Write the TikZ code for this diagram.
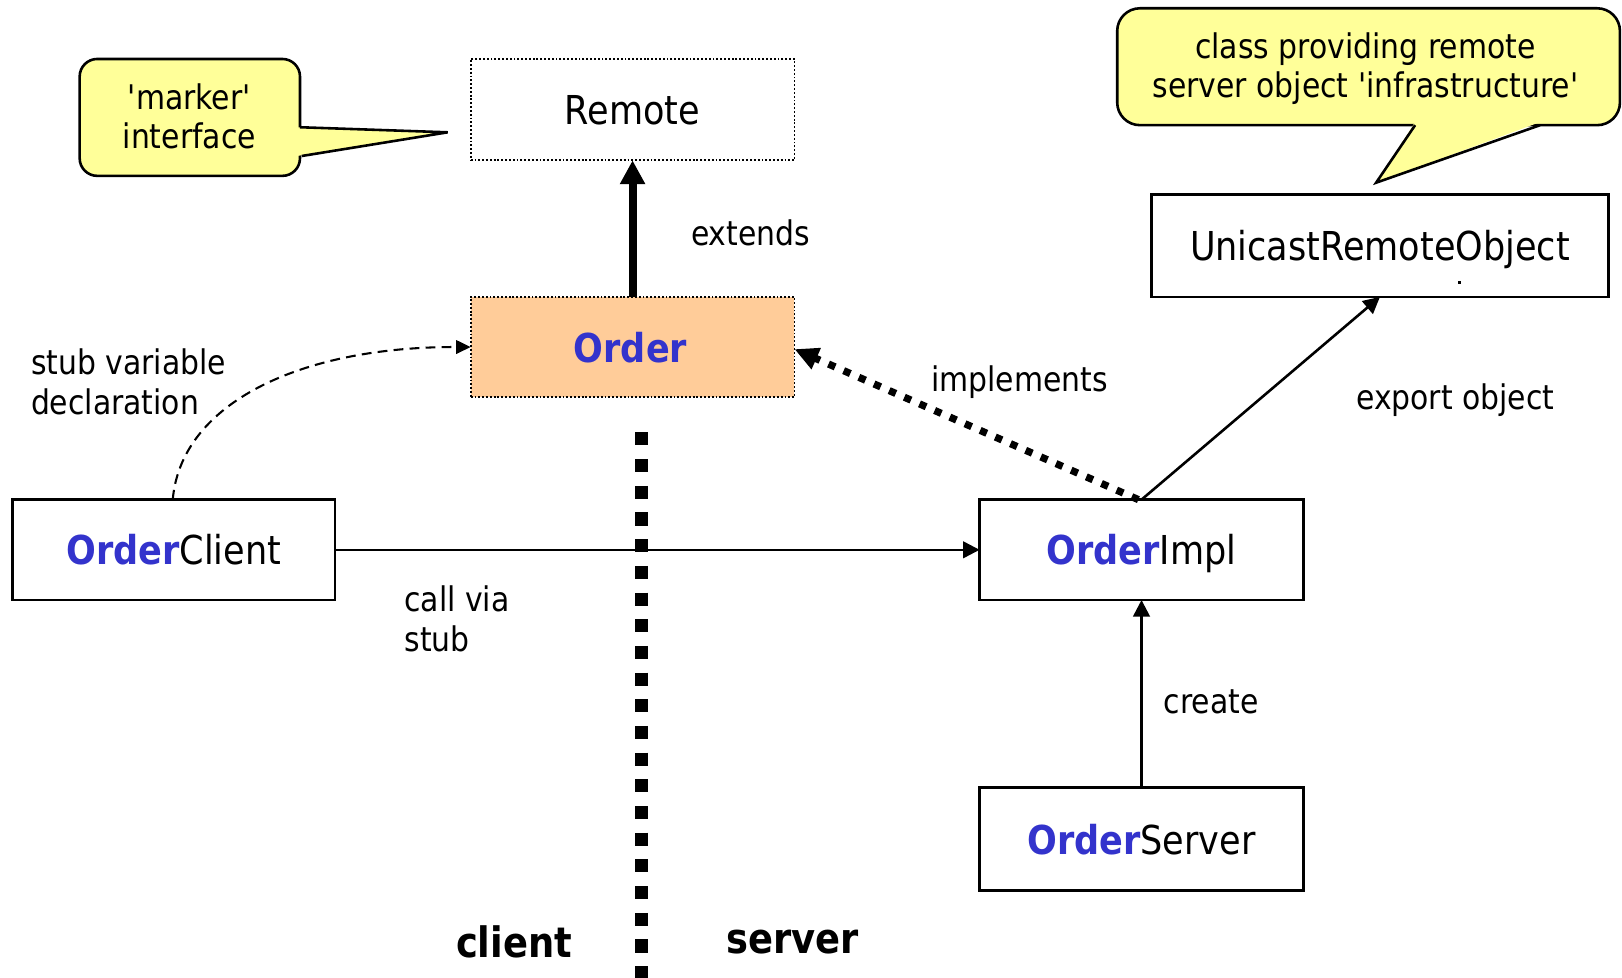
\documentclass[tikz,border=0pt]{standalone}
\usepackage{fontspec}
\setmainfont{DejaVu Sans}[FakeStretch=0.88, Ligatures=TeXOff]
\usetikzlibrary{arrows.meta}
\definecolor{ordblue}{HTML}{3333CC}
\definecolor{notefill}{HTML}{FFFF99}
\definecolor{ifacefill}{HTML}{FFCC99}
\newcommand\ordkw[1]{{\bfseries\color{ordblue}#1}}
\begin{document}
\begin{tikzpicture}[x=1pt, y=-1pt,
  every node/.style={inner sep=0pt, outer sep=0pt},
  cls/.style={draw, line width=2.5pt, fill=white, text depth=0pt,
    font=\fontsize{38.5}{45}\selectfont},
  iface/.style={draw, line width=1.8pt, dash pattern=on 1.8pt off 1.9pt,
    text depth=0pt, font=\fontsize{38.5}{45}\selectfont},
  lbl/.style={text depth=0pt, font=\fontsize{32.8}{38}\selectfont, align=left},
  side/.style={text depth=0pt, font=\fontsize{40.5}{45}\selectfont\bfseries},
  note/.style={fill=notefill, draw, line width=2.5pt},
  rel/.style={line width=2.5pt, -{Triangle[length=16pt,width=16pt]}},
  extarrow/.style={line width=7.7pt, -{Triangle[length=23pt,width=23pt]}},
  implarrow/.style={line width=7pt, dash pattern=on 7pt off 9pt,
    -{Triangle[length=23pt,width=21pt]}},
  declarrow/.style={line width=2pt, dash pattern=on 9.5pt off 6pt,
    -{Triangle[length=14pt,width=13pt]}},
  divider/.style={line width=12.6pt, dash pattern=on 12.6pt off 13.2pt}
]
\useasboundingbox (0,0) rectangle (1568,945);

% speech bubble next to Remote
\filldraw[note, rounded corners=17pt] (77,57) rectangle (290,170);
\coordinate (mtip) at (432.8,127.9);
\fill[notefill] (287,123) -- (mtip) -- (287,150.8) -- cycle;
\draw[line width=2.5pt] (290,123) -- (mtip) -- (291.7,150.8);
\node[lbl, align=center] (mnote) at (183,112) {'marker'\\interface};

% speech bubble above UnicastRemoteObject
\filldraw[note, rounded corners=22pt] (1080,8) rectangle (1566,121);
\coordinate (utip) at (1330.3,176.6);
\fill[notefill] (1368,118) -- (utip) -- (1488.8,118) -- cycle;
\draw[line width=2.5pt] (1368,121) -- (utip) -- (1488.8,121);
\node[lbl, align=center] (unote) at (1320,63) {class providing remote\\server object 'infrastructure'};

% client / server boundary
\coordinate (divtop) at (620,418);
\coordinate (divbot) at (620,945);
\draw[divider] (divtop) -- (divbot);

% classes and interfaces
\node[iface, minimum width=313pt, minimum height=98pt] (remote) at (611.5,106) {Remote};
\node[iface, fill=ifacefill, minimum width=313pt, minimum height=97pt] (order) at (611.5,335.5) {\ordkw{Order}\hspace*{4pt}};
\node[cls, minimum width=312pt, minimum height=97pt] (client) at (168,531.5) {\ordkw{Order}Client};
\node[cls, minimum width=313pt, minimum height=97pt] (impl) at (1103.5,531.5) {\ordkw{Order}Impl};
\node[cls, minimum width=313pt, minimum height=100pt] (server) at (1103.5,811) {\ordkw{Order}Server};
\node[cls, minimum width=442pt, minimum height=99pt] (unicast) at (1334,237.5) {UnicastRemoteObject};
\fill (1409,272) rectangle (1412,275);

% relations
\draw[extarrow] (order.north) -- (remote.south);
\draw[declarrow] ([xshift=-1pt]client.north) .. controls (175,390) and (290,335) .. (order.west);
\draw[rel] (client.east) -- (impl.west);
\draw[implarrow] ([xshift=-3pt]impl.north) -- ([yshift=-2pt]order.east);
\draw[rel] (impl.north) -- (unicast.south);
\draw[rel] (server.north) -- (impl.south);

% labels
\node[lbl, anchor=west] (lextends) at (668,225) {extends};
\node[lbl, anchor=west] (lstub) at (30,369) {stub variable\\declaration};
\node[lbl, anchor=west] (lcall) at (391,598) {call via\\stub};
\node[lbl, anchor=west] (limpl) at (900,366) {implements};
\node[lbl, anchor=west] (lexport) at (1311,383) {export object};
\node[lbl, anchor=west] (lcreate) at (1125,678) {create};
\node[side] (lclient) at (497,910) {client};
\node[side] (lserver) at (766,910) {server};
\end{tikzpicture}
\end{document}
